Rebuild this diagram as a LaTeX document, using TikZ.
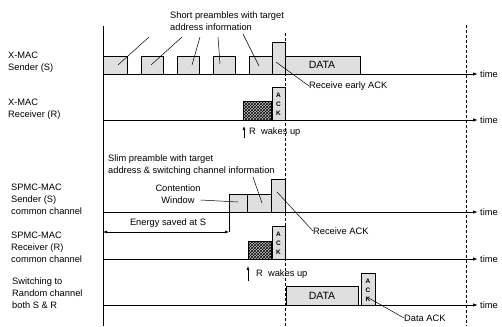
\documentclass[tikz,border=0pt]{standalone}
\usepackage{fontspec}
\setmainfont{Liberation Sans}
\usetikzlibrary{arrows.meta,patterns}
\begin{document}
\begin{tikzpicture}[x=1pt,y=-1pt,
  font=\fontsize{9.3}{12}\selectfont,
  axis/.style={line width=1pt},
  timearrow/.style={line width=0.9pt,-{Latex[length=5pt,width=3.5pt]}},
  pkt/.style={draw, line width=0.6pt, fill=gray!25},
  hatchbox/.style={draw, line width=0.6pt, fill=gray!45, postaction={pattern=crosshatch, pattern color=black}},
  ptr/.style={line width=0.5pt},
  lbl/.style={align=left, inner sep=0pt, anchor=west},
  txt/.style={inner sep=0pt, anchor=west},
  datatxt/.style={inner sep=0pt, font=\fontsize{10.5}{12}\selectfont},
  acktxt/.style={inner sep=0pt, font=\bfseries\fontsize{6.5}{7}\selectfont},
  wake/.style={line width=0.6pt,-{Latex[length=4pt,width=3pt]}},
  vdash/.style={line width=0.6pt, densely dashed}]
\useasboundingbox (0,0) rectangle (502,326);

% axes
\draw[axis] (103,26) -- (103,326);
\draw[vdash] (285,33) -- (285,326);
\draw[vdash] (466,25) -- (466,326);

% ---------- X-MAC sender ----------
\draw[pkt] (103,74) rectangle (127,56);
\draw[pkt] (141,74) rectangle (163,56);
\draw[pkt] (177,74) rectangle (199,56);
\draw[pkt] (213,74) rectangle (235,56);
\draw[pkt] (249,74) rectangle (272,56);
\draw[pkt] (285,74) rectangle (360,56);
\draw[pkt] (272,74) rectangle (285,42);
\node[datatxt] (xdata) at (322,65) {DATA};
\draw[timearrow] (103,74) -- (478,74) coordinate (xst);
\node[txt] (xstime) at (480,74) {time};

\node[lbl] (xslbl) at (8,62) {X-MAC\\Sender (S)};
\node[lbl, anchor=north west] (toptext) at (170,12) {Short preambles with target\\address information};
\coordinate (p1a) at (149,37); \coordinate (p1b) at (118,65);
\coordinate (p2a) at (182,37); \coordinate (p2b) at (151,65);
\coordinate (p3a) at (200,37); \coordinate (p3b) at (192,65);
\coordinate (p4a) at (218,37); \coordinate (p4b) at (220,64);
\coordinate (p5a) at (243,34); \coordinate (p5b) at (259,66);
\draw[ptr] (p1a) -- (p1b);
\draw[ptr] (p2a) -- (p2b);
\draw[ptr] (p3a) -- (p3b);
\draw[ptr] (p4a) -- (p4b);
\draw[ptr] (p5a) -- (p5b);
\node[txt] (earlyack) at (309,86) {Receive early ACK};
\coordinate (eacka) at (276,62);
\draw[ptr] (eacka) -- (earlyack.west);

% ---------- X-MAC receiver ----------
\draw[hatchbox] (243,120) rectangle (271,101);
\draw[pkt] (272,120) rectangle (285,87);
\node[acktxt] (xa1) at (278.5,95) {A};
\node[acktxt] (xa2) at (278.5,104) {C};
\node[acktxt] (xa3) at (278.5,113) {K};
\draw[timearrow] (103,120) -- (478,120);
\node[txt] (xrtime) at (480,120) {time};
\node[lbl] (xrlbl) at (8,109) {X-MAC\\Receiver (R)};
\coordinate (xw1) at (244,138); \coordinate (xw2) at (244,126);
\draw[wake] (xw1) -- (xw2);
\node[txt] (xwake) at (249,132) {R~~wakes up};

% ---------- SPMC sender ----------
\node[lbl, anchor=north west] (slimtext) at (108,155) {Slim preamble with target\\address \& switching channel information};
\draw[pkt] (229,212) rectangle (247,194);
\draw[pkt] (247,212) rectangle (271,194);
\draw[pkt] (271,212) rectangle (285,179);
\draw[line width=0.6pt] (229,212) -- (229,232);
\draw[timearrow] (103,212) -- (478,212);
\node[txt] (sstime) at (480,212) {time};
\node[lbl] (sslbl) at (11,199) {SPMC-MAC\\Sender (S)\\common channel};
\node[inner sep=0pt, align=center] (cw) at (178,194) {Contention\\Window};
\coordinate (cwb) at (238,202);
\draw[ptr] (cw.east) ++(0,6) -- (cwb);
\coordinate (slb) at (262,203);
\draw[ptr] (253,177) -- (slb);
\node[txt] (rack) at (313,231) {Receive ACK};
\coordinate (racka) at (277,192);
\draw[ptr] (racka) -- (rack.west);
\coordinate (esl) at (103,232); \coordinate (esr) at (229,232);
\draw[line width=0.6pt,{Latex[length=4pt,width=3pt]}-{Latex[length=4pt,width=3pt]}] (esl) -- (esr);
\node[inner sep=0pt] (energy) at (168,223) {Energy saved at S};

% ---------- SPMC receiver ----------
\draw[hatchbox] (248,259) rectangle (271,241);
\draw[pkt] (272,259) rectangle (285,226);
\node[acktxt] (sa1) at (278.5,234) {A};
\node[acktxt] (sa2) at (278.5,243) {C};
\node[acktxt] (sa3) at (278.5,252) {K};
\draw[timearrow] (103,259) -- (478,259);
\node[txt] (srtime) at (480,259) {time};
\node[lbl] (srlbl) at (11,247) {SPMC-MAC\\Receiver (R)\\common channel};
\coordinate (sw1) at (248,281); \coordinate (sw2) at (248,266);
\draw[wake] (sw1) -- (sw2);
\node[txt] (swake) at (256,274) {R~~wakes up};

% ---------- Random channel ----------
\draw[pkt] (286,305) rectangle (358,286);
\node[datatxt] (rdata) at (322,296) {DATA};
\draw[pkt] (361,305) rectangle (375,273);
\node[acktxt] (ra1) at (368,281) {A};
\node[acktxt] (ra2) at (368,290) {C};
\node[acktxt] (ra3) at (368,299) {K};
\draw[timearrow] (103,305) -- (478,305);
\node[txt] (rtime) at (480,305) {time};
\node[lbl] (rlbl) at (12,293) {Switching to\\Random channel\\both S \& R};
\node[txt] (dack) at (404,318) {Data ACK};
\coordinate (dacka) at (367,297);
\draw[ptr] (dacka) -- (dack.west);
\end{tikzpicture}
\end{document}
